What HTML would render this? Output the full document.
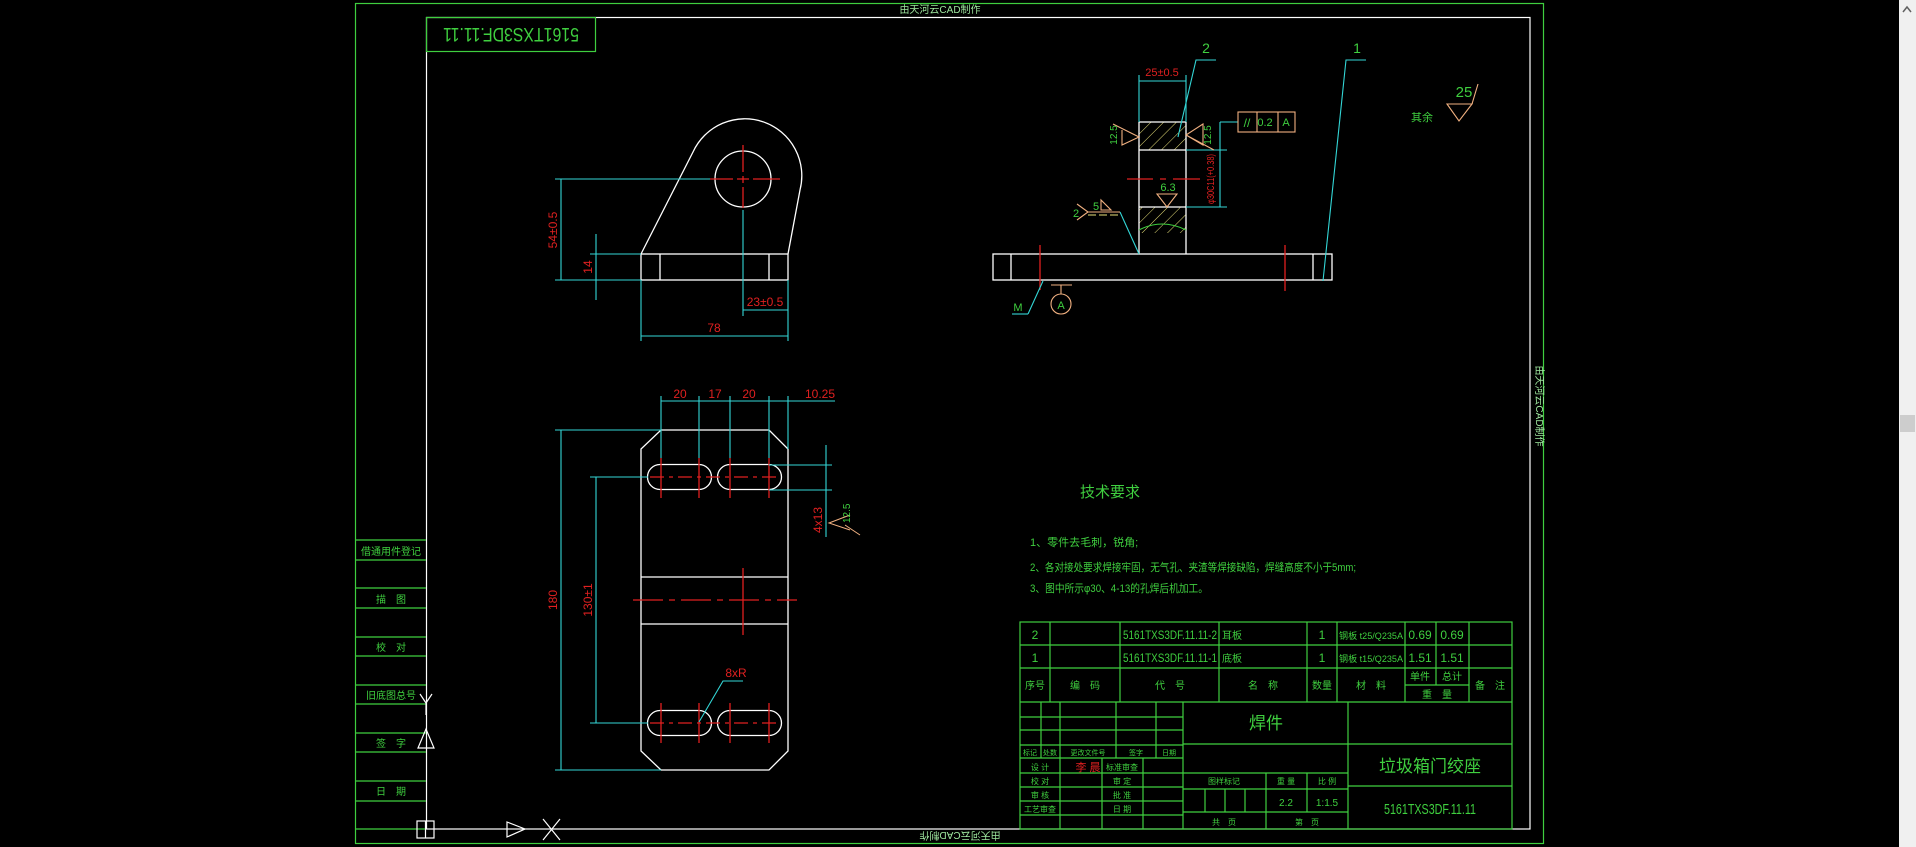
<!DOCTYPE html>
<html><head><meta charset="utf-8"><style>
html,body{margin:0;padding:0;background:#000;width:1916px;height:847px;overflow:hidden}
svg{display:block}
text{font-family:"Liberation Sans","Noto Sans CJK SC",sans-serif}
</style></head><body>
<svg width="1916" height="847" viewBox="0 0 1916 847" xmlns="http://www.w3.org/2000/svg">
<rect width="1916" height="847" fill="#000"/>
<defs>
<pattern id="h" width="9" height="9" patternUnits="userSpaceOnUse" patternTransform="rotate(45)">
<line x1="0" y1="0" x2="0" y2="9" stroke="#e8e07a" stroke-width="1"/></pattern>
</defs>
<rect x="1899" y="0" width="17" height="847" fill="#f0f0f0"/>
<rect x="1900" y="415" width="15" height="17" fill="#cdcdcd"/>
<path d="M1903 12 L1907 7 L1911 12" stroke="#606060" stroke-width="1.5" fill="none"/>

<rect x="355.5" y="3.5" width="1188" height="840" fill="none" stroke="#3fcf3f" stroke-width="1.2"/>
<rect x="426.5" y="17.5" width="1103.5" height="811.5" fill="none" stroke="#fff" stroke-width="1.2"/>
<text x="940" y="13" fill="#9fe89f" font-size="10" text-anchor="middle">由天河云CAD制作</text>
<text x="960" y="840" fill="#9fe89f" font-size="10" text-anchor="middle" transform="rotate(180 960 836)">由天河云CAD制作</text>
<text x="1536" y="406" fill="#9fe89f" font-size="10" text-anchor="middle" transform="rotate(90 1536 406)">由天河云CAD制作</text>
<rect x="426.5" y="17.5" width="169" height="34" fill="none" stroke="#3fcf3f" stroke-width="1.2"/>
<text x="511" y="42" fill="#3fcf3f" font-size="19" text-anchor="middle" textLength="136" lengthAdjust="spacingAndGlyphs" transform="rotate(180 511 35)">5161TXS3DF.11.11</text>

<g stroke="#3fcf3f" stroke-width="1.2" fill="none">
<path d="M355 540H426M355 560H426M355 588H426M355 608H426M355 637H426M355 656H426M355 685H426M355 704H426M355 733H426M355 752H426M355 781H426M355 801H426M355 829H426"/>
</g>
<g fill="#3fcf3f" font-size="10" text-anchor="middle">
<text x="391" y="555">借通用件登记</text>
<text x="391" y="603">描　图</text>
<text x="391" y="651">校　对</text>
<text x="391" y="699">旧底图总号</text>
<text x="391" y="747">签　字</text>
<text x="391" y="795">日　期</text>
</g>
<g stroke="#fff" fill="none" stroke-width="1.2">
<rect x="417" y="821" width="17" height="17"/><line x1="425.5" y1="821" x2="425.5" y2="838"/>
<path d="M420 694 L426 703 L432 694 M426 703 V715"/>
<path d="M418 748 L426 729 L434 748Z"/>
<path d="M507 822 L525 829 L507 837Z"/>
<path d="M543 819 L560 840 M560 819 L543 840"/>
</g>

<g stroke="#fff" stroke-width="1.3" fill="none">
<rect x="641" y="254" width="147" height="26"/>
<path d="M660 254V280M769 254V280"/>
<circle cx="743" cy="179" r="28"/>
<path d="M641 254 L693 152 A57 57 0 0 1 800 190 L788 254"/>
</g>
<g stroke="#e02020" stroke-width="1.3" fill="none">
<path d="M710 179H733M737 179H749M753 179H780M743 145V172M743 176V183M743 187V208"/>
</g>
<g stroke="#33d6d6" stroke-width="1.1" fill="none">
<path d="M555 179H710M555 280H641M561 179V280M590 254H641M596 234V300M743 210V316M743 310H788M641 280V341M788 280V341M641 336H788"/>
</g>
<g fill="#e02020" font-size="12" text-anchor="middle">
<text x="553" y="234" transform="rotate(-90 553 230)">54±0.5</text>
<text x="588" y="271" transform="rotate(-90 588 267)">14</text>
<text x="765" y="306">23±0.5</text>
<text x="714" y="332">78</text>
</g>

<g stroke="#fff" stroke-width="1.3" fill="none">
<path d="M661 430H769L788 449V751L769 770H661L641 751V449Z"/>
<path d="M641 577H788M641 624H788"/>
<path d="M660 464.5H699A12.5 12.5 0 0 1 699 489.5H660A12.5 12.5 0 0 1 660 464.5Z"/>
<path d="M730 464.5H769A12.5 12.5 0 0 1 769 489.5H730A12.5 12.5 0 0 1 730 464.5Z"/>
<path d="M660 710.5H699A12.5 12.5 0 0 1 699 735.5H660A12.5 12.5 0 0 1 660 710.5Z"/>
<path d="M730 710.5H769A12.5 12.5 0 0 1 769 735.5H730A12.5 12.5 0 0 1 730 710.5Z"/>
</g>
<g stroke="#e02020" stroke-width="1.3" fill="none">
<path d="M661 458V498M699 458V498M730 458V498M769 458V498M661 703V743M699 703V743M730 703V743M769 703V743"/>
<path d="M650 477H781M650 723H781" stroke-dasharray="14 5 4 5"/>
<path d="M633 600H797" stroke-dasharray="30 6 6 6"/>
<path d="M743 568V635"/>
</g>
<g stroke="#33d6d6" stroke-width="1.1" fill="none">
<path d="M661 396V458M699 396V458M730 396V458M769 396V458M788 396V449M661 401H835"/>
<path d="M555 430H661M555 770H661M561 430V770M590 477H648M590 723H648M596 477V723"/>
<path d="M769 465H832M769 490H832M826 445V537"/>
<path d="M699 722L723 681H743"/>
</g>
<g fill="#e02020" font-size="12" text-anchor="middle">
<text x="680" y="398">20</text><text x="715" y="398">17</text><text x="749" y="398">20</text><text x="820" y="398">10.25</text>
<text x="553" y="604" transform="rotate(-90 553 600)">180</text>
<text x="588" y="604" transform="rotate(-90 588 600)">130±1</text>
<text x="818" y="524" transform="rotate(-90 818 520)">4x13</text>
<text x="736" y="677">8xR</text>
</g>
<path d="M850 515 L829 523 L850 530 M845 525 L860 535" stroke="#f0b080" fill="none"/>
<text x="850" y="523" fill="#3fcf3f" font-size="10" transform="rotate(-90 850 523)">12.5</text>

<rect x="1139" y="122" width="47" height="28" fill="url(#h)"/>
<rect x="1139" y="207" width="47" height="26" fill="url(#h)"/>
<g stroke="#fff" stroke-width="1.3" fill="none">
<rect x="993" y="254" width="339" height="26"/>
<path d="M1011 254V280M1313 254V280"/>
<path d="M1139 122V254M1186 122V254M1139 122H1186M1139 150H1186M1139 207H1186"/>
</g>
<path d="M1139 230 Q1162 218 1186 230" stroke="#3fcf3f" fill="none"/>
<g stroke="#e02020" stroke-width="1.3" fill="none">
<path d="M1040 245V290M1285 245V291M1127 179H1153M1160 179H1166M1173 179H1200"/>
</g>
<g stroke="#33d6d6" stroke-width="1.1" fill="none">
<path d="M1139 75V122M1186 75V122M1139 81H1186"/>
<path d="M1178 137L1196 60H1216M1323 281L1346 60H1366"/>
<path d="M1186 150H1227M1186 207H1227M1220 122V207M1238 122H1220"/>
<path d="M1120 212L1139 254M1028 314L1043 281"/>
<path d="M1012 314H1028"/>
</g>
<g stroke="#f0b080" fill="none" stroke-width="1.1">
<rect x="1238" y="112" width="57" height="20"/><path d="M1257 112V132M1278 112V132"/>
<path d="M1113 124L1139 137L1122 145L1122 130"/>
<path d="M1203 124L1186 135L1203 145Z M1186 135L1214 150"/>
<path d="M1157 194H1177L1167 207Z"/>
<path d="M1077 204L1088 212L1077 220M1088 212H1120"/>
<path d="M1101 200V210L1111 210Z"/>
<path d="M1447 104H1472L1459 121Z M1472 104L1478 84"/>
<circle cx="1061" cy="304" r="10"/>
<path d="M1061 294V285M1051 285H1072"/>
</g>
<path d="M1088 215H1120" stroke="#e8e07a" stroke-dasharray="8 3"/>
<g fill="#3fcf3f" font-size="12" text-anchor="middle">
<text x="1206" y="53" font-size="14">2</text>
<text x="1357" y="53" font-size="14">1</text>
<text x="1265" y="126" font-size="11">0.2</text>
<text x="1286" y="126" font-size="11">A</text>
<text x="1247" y="127" font-size="12">//</text>
<text x="1116" y="136" font-size="10" transform="rotate(-90 1116 135)">12.5</text>
<text x="1210" y="136" font-size="10" transform="rotate(-90 1210 135)">12.5</text>
<text x="1168" y="191" font-size="11">6.3</text>
<text x="1096" y="210" font-size="11">5</text>
<text x="1076" y="217" font-size="11">2</text>
<text x="1018" y="311" font-size="11">M</text>
<text x="1061" y="309" font-size="11">A</text>
<text x="1422" y="121" font-size="11">其余</text>
<text x="1464" y="97" font-size="15">25</text>
</g>
<text x="1162" y="76" fill="#e02020" font-size="11" text-anchor="middle">25±0.5</text>
<text x="1210" y="183" fill="#e02020" font-size="10" text-anchor="middle" textLength="50" lengthAdjust="spacingAndGlyphs" transform="rotate(-90 1210 179)">φ30C11(+0.38)</text>

<g fill="#3fcf3f">
<text x="1080" y="497" font-size="15">技术要求</text>
<text x="1030" y="546" font-size="11">1、零件去毛刺，锐角;</text>
<text x="1030" y="571" font-size="11" textLength="326" lengthAdjust="spacingAndGlyphs">2、各对接处要求焊接牢固，无气孔、夹渣等焊接缺陷，焊缝高度不小于5mm;</text>
<text x="1030" y="592" font-size="11" textLength="178" lengthAdjust="spacingAndGlyphs">3、图中所示φ30、4-13的孔焊后机加工。</text>
</g>

<g stroke="#3fcf3f" stroke-width="1.2" fill="none">
<rect x="1020" y="622" width="492" height="207"/>
<path d="M1020 645H1512M1020 668H1512M1020 702H1512M1405 685H1469"/>
<path d="M1050 622V702M1120 622V702M1219 622V702M1307 622V702M1337 622V702M1405 622V702M1436 622V685M1469 622V702"/>
<path d="M1041 702V758M1060 702V829M1116 702V758M1156 702V758M1183 702V829M1102 758V829M1143 758V829"/>
<path d="M1020 717H1183M1020 730H1183M1020 745H1183M1020 758H1183M1020 773H1183M1020 787H1183M1020 801H1183M1020 815H1183"/>
<path d="M1348 702V829M1183 744H1512M1183 773H1348M1183 789H1348M1183 812H1348M1348 786H1512M1266 773V829M1307 773V812M1205 789V812M1225 789V812M1245 789V812"/>
</g>
<g fill="#3fcf3f" font-size="12" text-anchor="middle">
<text x="1035" y="639">2</text><text x="1035" y="662">1</text>
<text x="1123" y="639" font-size="12" text-anchor="start" textLength="94" lengthAdjust="spacingAndGlyphs">5161TXS3DF.11.11-2</text>
<text x="1123" y="662" font-size="12" text-anchor="start" textLength="94" lengthAdjust="spacingAndGlyphs">5161TXS3DF.11.11-1</text>
<text x="1222" y="639" font-size="10" text-anchor="start">耳板</text><text x="1222" y="662" font-size="10" text-anchor="start">底板</text>
<text x="1322" y="639">1</text><text x="1322" y="662">1</text>
<text x="1371" y="639" font-size="9" textLength="64" lengthAdjust="spacingAndGlyphs">钢板 t25/Q235A</text><text x="1371" y="662" font-size="9" textLength="64" lengthAdjust="spacingAndGlyphs">钢板 t15/Q235A</text>
<text x="1420" y="639">0.69</text><text x="1452" y="639">0.69</text>
<text x="1420" y="662">1.51</text><text x="1452" y="662">1.51</text>
<g font-size="10">
<text x="1035" y="689">序号</text><text x="1085" y="689">编　码</text><text x="1170" y="689">代　号</text>
<text x="1263" y="689">名　称</text><text x="1322" y="689">数量</text><text x="1371" y="689">材　料</text>
<text x="1420" y="680">单件</text><text x="1452" y="680">总计</text><text x="1437" y="698">重　量</text>
<text x="1490" y="689">备　注</text>
<text x="1030" y="755" font-size="7">标记</text><text x="1050" y="755" font-size="7">处数</text><text x="1088" y="755" font-size="7">更改文件号</text><text x="1136" y="755" font-size="7">签字</text><text x="1169" y="755" font-size="7">日期</text>
<text x="1040" y="770" font-size="8">设 计</text><text x="1040" y="784" font-size="8">校 对</text><text x="1040" y="798" font-size="8">审 核</text><text x="1040" y="812" font-size="8">工艺审查</text>
<text x="1122" y="770" font-size="8">标准审查</text><text x="1122" y="784" font-size="8">审 定</text><text x="1122" y="798" font-size="8">批 准</text><text x="1122" y="812" font-size="8">日 期</text>
<text x="1224" y="784" font-size="8">图样标记</text><text x="1286" y="784" font-size="8">重 量</text><text x="1327" y="784" font-size="8">比 例</text>
<text x="1224" y="825" font-size="8">共　页</text><text x="1307" y="825" font-size="8">第　页</text>
</g>
<text x="1286" y="806" font-size="10">2.2</text><text x="1327" y="806" font-size="10">1:1.5</text>
<text x="1266" y="729" font-size="17">焊件</text>
<text x="1430" y="772" font-size="17">垃圾箱门绞座</text>
<text x="1430" y="814" font-size="15" textLength="92" lengthAdjust="spacingAndGlyphs">5161TXS3DF.11.11</text>
</g>
<text x="1088" y="771" fill="#e02020" font-size="11" text-anchor="middle">李 晨</text>
</svg>
</body></html>
